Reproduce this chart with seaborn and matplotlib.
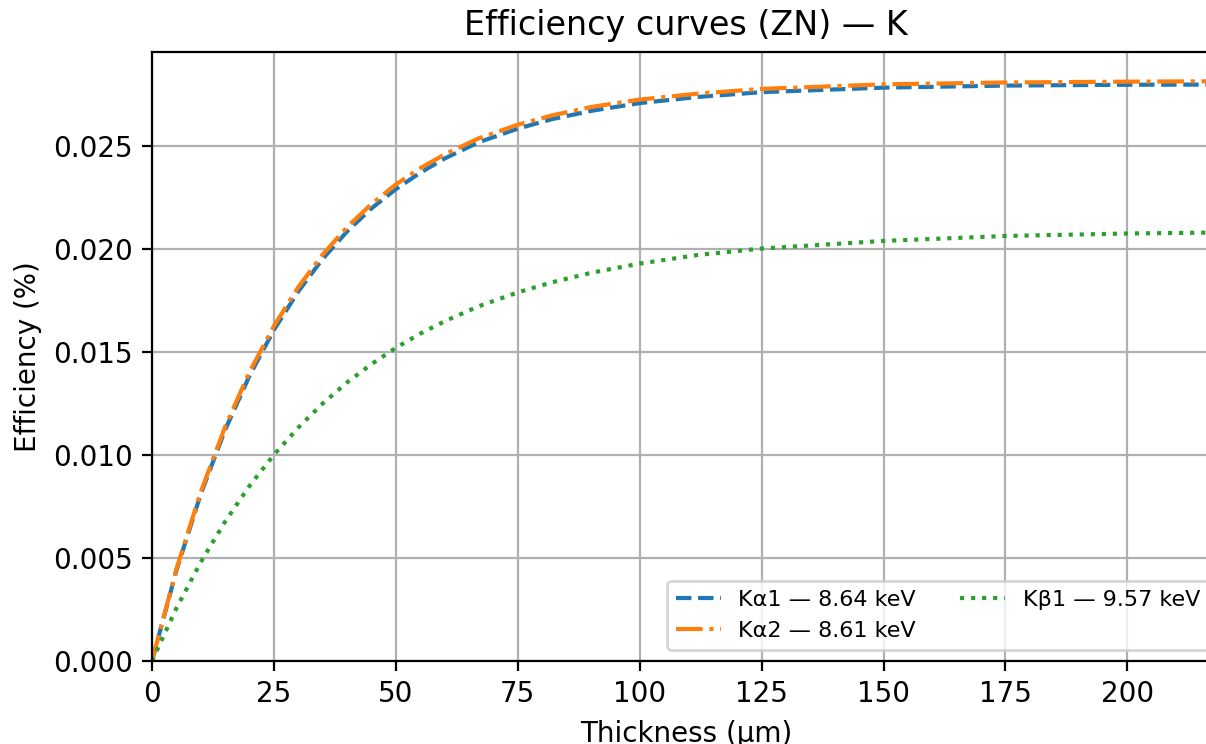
import matplotlib
matplotlib.use("Agg")
import matplotlib.pyplot as plt
import seaborn as sns
import pandas as pd

thickness = [0, 5, 10, 15, 20, 25, 30, 35, 40, 45, 50, 55, 60, 67, 75, 82, 90, 100, 112, 125, 150, 175, 200, 219]
ka1 = [0.0, 0.00439, 0.00810, 0.01122, 0.01385, 0.01607, 0.01794, 0.01952, 0.02085, 0.02197,
       0.02290, 0.02370, 0.02439, 0.02518, 0.02584, 0.02630, 0.02670, 0.02708, 0.02738, 0.02761,
       0.02783, 0.02793, 0.02797, 0.02798]
ka2 = [0.0, 0.00446, 0.00821, 0.01137, 0.01403, 0.01626, 0.01815, 0.01973, 0.02106, 0.02218,
       0.02313, 0.02392, 0.02459, 0.02537, 0.02603, 0.02648, 0.02689, 0.02725, 0.02754, 0.02777,
       0.02799, 0.02808, 0.02812, 0.02814]
kb1 = [0.0, 0.00256, 0.00480, 0.00677, 0.00850, 0.01001, 0.01133, 0.01250, 0.01352, 0.01441,
       0.01520, 0.01589, 0.01649, 0.01722, 0.01789, 0.01838, 0.01884, 0.01929, 0.01971, 0.02002,
       0.02039, 0.02063, 0.02075, 0.02080]
labels = ["Kα1 — 8.64 keV", "Kα2 — 8.61 keV", "Kβ1 — 9.57 keV"]
colors = ["#1f77b4", "#ff7f0e", "#2ca02c"]
styles = ["--", "-.", ":"]

sns.set_style("ticks")
plt.rcParams["font.family"] = ["DejaVu Sans"]
plt.rcParams["text.color"] = "black"
plt.rcParams["axes.labelcolor"] = "black"
plt.rcParams["xtick.color"] = "black"
plt.rcParams["ytick.color"] = "black"

fig = plt.figure(figsize=(6.03, 3.72), dpi=200)
ax = fig.add_axes([152 / 1206, 1 - 661 / 744, (1220 - 152) / 1206, (661 - 52) / 744])

for ys, lab, c, ls in zip([ka1, ka2, kb1], labels, colors, styles):
    df = pd.DataFrame({"x": thickness, "y": ys})
    sns.lineplot(data=df, x="x", y="y", ax=ax, color=c, linestyle=ls, linewidth=1.5, label=lab)

ax.set_xlim(0, 219)
ax.set_ylim(0, 0.02956)
ax.set_xticks([0, 25, 50, 75, 100, 125, 150, 175, 200])
ax.set_yticks([0.0, 0.005, 0.010, 0.015, 0.020, 0.025])
ax.yaxis.set_major_formatter(matplotlib.ticker.FormatStrFormatter("%.3f"))
ax.grid(True, color="#b0b0b0", linewidth=0.8)
ax.set_axisbelow(True)
for s in ax.spines.values():
    s.set_color("black")
    s.set_linewidth(0.8)
ax.tick_params(axis="both", labelsize=10, length=3.5, width=0.8, color="black", labelcolor="black")
ax.set_xlabel("Thickness (µm)", fontsize=10, color="black")
ax.set_ylabel("Efficiency (%)", fontsize=10, color="black")
ax.set_title("Efficiency curves (ZN) — K", fontsize=12, color="black")
leg = ax.legend(loc="lower right", ncol=2, fontsize=8, frameon=True)
for t in leg.get_texts():
    t.set_color("black")

fig.savefig("out.png", dpi=200)
